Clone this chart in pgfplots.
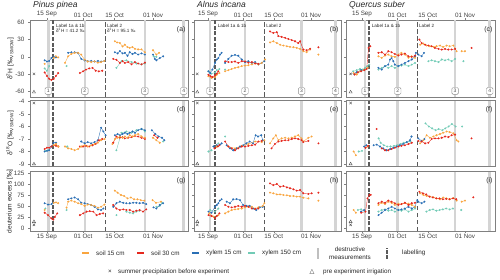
\documentclass[border=0pt]{standalone}
\usepackage{fontspec}
\setmainfont{Liberation Sans}
\newfontfamily\dejavu{DejaVu Sans}
\usepackage{pgfplots}
\pgfplotsset{compat=1.18}
\definecolor{cA}{HTML}{F9A53F}
\definecolor{cB}{HTML}{E5281E}
\definecolor{cC}{HTML}{2A6FB5}
\definecolor{cD}{HTML}{72CBB6}
\definecolor{dgray}{HTML}{5A5A5A}
\pgfplotsset{
 panel/.style={scale only axis, anchor=south west,
  axis line style={black!50,line width=0.4pt},
  tick style={black!50,line width=0.4pt}, tick align=outside, major tick length=2pt,
  ticklabel style={font=\fontsize{6.3}{7}\selectfont, text=black!75},
  xticklabel style={inner sep=1pt},
  /pgf/number format/assume math mode=true,
  xtick={15,31,45,62}, xticklabels={15 Sep,01 Oct,15 Oct,01 Nov},
  unbounded coords=jump, ytick pos=left, clip=true},
 rowI/.style={height=76.5pt, ymin=-69.5, ymax=63, ytick={-60,-30,0,30,60}, xtick pos=right, xticklabel pos=right},
 rowII/.style={height=65.5pt, ymin=-9.16, ymax=-3.92, ytick={-9,-8,-7,-6,-5,-4}, xmajorticks=false},
 rowIII/.style={height=59.5pt, ymin=-6, ymax=129, ytick={0,25,50,75,100,125}, xtick pos=left},
 colA/.style={width=158pt, xmin=7.5, xmax=77.5},
 colB/.style={width=147pt, xmin=8.6, xmax=75.7, yticklabels={}},
 colC/.style={width=149pt, xmin=7.7, xmax=75.7, yticklabels={}},
 ser/.style={mark=*, mark size=0.8pt, line width=0.35pt, mark options={solid}},
 s15/.style={ser, cA},
 s30/.style={ser, cB},
 x15/.style={ser, cC},
 x150/.style={ser, cD},
 cr/.style={only marks, mark=x, mark size=1.7pt, black!70, line width=0.4pt},
 tr/.style={only marks, mark=triangle, mark size=1.8pt, black!70, line width=0.4pt},
}
\tikzset{
 dbox/.style={draw=black!45, fill=white, rounded corners=1.2pt, inner sep=0pt, minimum width=6.5pt, minimum height=6.8pt, font=\fontsize{5}{5}\selectfont, text=black!70, line width=0.4pt},
 ann/.style={anchor=west, inner sep=0pt, font=\fontsize{4.6}{5}\selectfont, text=black!85},
}
\newcommand{\vl}[2]{\draw[#2] ({axis cs:#1,0}|-{rel axis cs:0,0}) -- ({axis cs:#1,0}|-{rel axis cs:0,1});}
\newcommand{\destr}[1]{\vl{#1}{black!17,line width=2.6pt}}
\newcommand{\deco}[6]{\destr{#1}\destr{#2}\destr{#3}\destr{#4}%
 \vl{#5}{dgray,line width=1.8pt,dash pattern=on 4pt off 1.6pt}%
 \vl{#6}{dgray,line width=0.8pt,dash pattern=on 4.5pt off 2.5pt}}
\newcommand{\boxes}[4]{\node[dbox] at (axis cs:#1,-59) {1};\node[dbox] at (axis cs:#2,-59) {2};\node[dbox] at (axis cs:#3,-59) {3};\node[dbox] at (axis cs:#4,-59) {4};}
\newcommand{\plab}[1]{\node[anchor=north east, inner sep=0pt, xshift=-2.5pt, yshift=-6pt, font=\fontsize{6.8}{8}\selectfont, text=black!85] at (rel axis cs:1,1) {(#1)};}
\begin{document}
\begin{tikzpicture}
\path[use as bounding box] (0,0) rectangle (500pt,279pt);
% ---------------- (a) ----------------
\begin{axis}[panel, rowI, colA, at={(30pt,182pt)}]
\deco{15.6}{31.8}{58.4}{75.6}{17.8}{41}
\addplot[x150] table {
x y
14 -20
15 -24
16 -16
nan nan
23.7 -16
nan nan
45.8 -19
48 -7.5
50.2 -6
52.5 -9
54.7 -11.5
56.9 -13
58.4 -11.5
nan nan
62.3 1
63.5 0
};
\addplot[x15] table {
x y
14 -6
15 -8
16 -7
17 -2
18 0
19 -1
nan nan
24.4 7
25.8 8
27.3 8
28.7 7
30.2 -3.5
31.7 -6
33.1 -7.6
34.6 -7
36.1 -8
37.6 -7
39 -8
40.5 -7
nan nan
45.1 8
46.3 6
47.3 10
48.5 6
49.5 7
50.7 2
51.7 8
52.9 5
54 7
55.4 4
56.9 6
58.4 4
nan nan
62 4
62.8 -3.5
63.5 -6
65 -2
66.5 1
};
\addplot[s30] table {
x y
14 -27
15 -33
16 -38
17 -40
18 -38
19 -33
20 -28
nan nan
29.6 -28
31 -25
32.3 -22
33.7 -20
35.2 -19
36.6 -24
38 -25
39.5 -24
nan nan
44.4 -3.5
45.8 -5
47.3 -10.5
48.5 -7.5
49.5 -10.5
51 -9
52.5 -13
54 -9
55.4 -11.5
56.9 -13
58.4 -10
};
\addplot[s15] table {
x y
14 -12
nan nan
18 -2
19 1
20 -1
nan nan
23 -10.5
24.4 1
25.8 5
27.3 7
28.8 7
30.2 4
31.7 -5
33.1 -8
34.6 -9
36.1 -8
37.6 -10
39 -9
40.5 -7
nan nan
45.1 27
46.1 25
47.3 24
48.5 18
49.5 21
50.7 17
51.7 15.5
52.9 17
54 14
55.4 13
56.9 13
58.4 8
nan nan
62 11.5
63.5 4
64.7 7
};
\addplot[cr] coordinates {(9.25,-29.5)};
\addplot[tr] coordinates {(9.25,-61)};
\boxes{15.6}{31.8}{58.4}{75.6}
\node[ann] at (axis cs:19,54) {Label 1a \& 1b};
\node[ann] at (axis cs:19,45.5) {δ\textsuperscript{2}H = 41.2 ‰};
\node[ann] at (axis cs:41.6,54) {Label 2};
\node[ann] at (axis cs:41.6,45.5) {δ\textsuperscript{2}H = 95.1 ‰};
\plab{a}
\end{axis}
% ---------------- (b) ----------------
\begin{axis}[panel, rowI, colB, at={(194pt,182pt)}]
\deco{15.9}{31.9}{57.7}{73.2}{18.2}{40.6}
\addplot[x150] table {
x y
15.2 -25
16.6 -29
18.2 -27
19 -23
20.2 -21
nan nan
22.8 -22
};
\addplot[x15] table {
x y
15.2 -25
16 -28
17 -22
18.2 -10.5
19 -4.6
19.7 -2
20.5 4
21.2 7
nan nan
22.8 -10.5
24.3 -3.5
25.8 2
27.3 3.4
28.8 2
30.4 -4.6
31.9 -9.2
33.4 -7.5
35 -10.5
36.5 -9
38 -13
39.5 -10.5
40.7 -7.5
};
\addplot[s15] table {
x y
15.2 -33.5
16.6 -36.5
18.2 -35
19 -31
20.2 -28
nan nan
22.8 -25
24.3 -23
25.8 -21
27.3 -19
28.8 -18
30.4 -16
31.9 -15
33.4 -14.5
35 -13
36.5 -11.5
38 -13
39.5 -10.5
41 -4.6
nan nan
43.3 25
44.8 27
46.4 24
47.9 21
49.4 19.6
51 18.4
52.4 17.3
54 16.7
55.5 15.5
57 13.8
58.5 9.8
60 8
61.6 12.7
nan nan
65.4 4
};
\addplot[s30] table {
x y
15.2 -31
16.2 -33.5
17 -35
18.2 -32
19 -29
19.7 -25
nan nan
22.8 -7.5
24.3 -9
25.8 -9
27.3 -8
28.8 -10.5
30.4 -7.5
31.9 -8
33.4 -10
35 -9
36.5 -11.5
38 -12
nan nan
43.3 44
44.8 41.5
46.4 42.7
47.1 36
48.6 34.6
50.2 33
51.7 31
53.2 29
54.7 27
56.2 24
57 27
58.5 12.7
60 11.5
61.6 14
nan nan
65.4 16.6
};
\addplot[cr] coordinates {(10.1,-29.5)};
\addplot[tr] coordinates {(10.1,-61)};
\boxes{15.9}{31.9}{57.7}{73.2}
\node[ann] at (axis cs:19.4,54) {Label 1a \& 1b};
\node[ann] at (axis cs:41.5,54) {Label 2};
\plab{b}
\end{axis}
% ---------------- (c) ----------------
\begin{axis}[panel, rowI, colC, at={(346pt,182pt)}]
\deco{16.4}{31.3}{57.5}{73.3}{18.3}{40.4}
\addplot[x150] table {
x y
11 -25
12.6 -23
14.1 -21
15.3 -22
16.4 -19
17.4 -16
18.3 -13.4
nan nan
22.5 -22
24 -19
25.5 -16
27 -19
28.5 -16
30 -19
31.6 -16
33 -15
34.6 -13.4
36.2 -16
37.7 -13.4
39.2 -10.5
nan nan
45.3 -7.5
46.8 -6
48.3 -7.5
49.9 -9
51.4 -4.6
52.9 -6
54.4 -4.6
55.9 -7.5
57.5 -3.5
nan nan
61.3 -7.5
};
\addplot[x15] table {
x y
11.2 -29
12.6 -26.6
14.6 -23
16.1 -22
nan nan
22.5 -19
24 -22
25.5 -16
27 -13.4
27.8 -4.6
28.5 -2
29.3 -7.5
30 -13.4
31.6 -16
33 -13.4
34.6 -10.5
36.2 -7.5
37.7 -4.6
39.2 1
39.6 7
nan nan
40.7 4
42.2 1
43.3 7
};
\addplot[s15] table {
x y
11.2 -28
12.6 -30.6
14.1 -25
16.1 -22
17.6 -19
nan nan
22.5 1
24 -1.7
25.5 2.3
27 4
28.5 1
30 0
31.6 4
33 7
34.6 4
36.2 -1.5
37.7 1
39.2 -1.7
nan nan
41.5 21
43 23
44.5 19.6
46 18.4
47.6 17.3
49 18.4
50.6 19.6
52 17.3
53.6 19.6
55 18.4
56.7 19.6
58.2 9.8
nan nan
60.5 9.8
62 9.8
};
\addplot[s30] table {
x y
11.6 -30.6
13.1 -26.6
14.6 -25
16.1 -23
17.1 -21
18 15.5
18.8 18.4
nan nan
22.5 7
24 8
25.5 4
27 9.8
28.5 8
30 5
31.6 2.3
33 4
34.6 5.7
36.2 1
37.7 0
39.2 2.3
nan nan
41.2 30
42.2 24
43.8 21
45.3 19.6
46.8 18.4
48.3 15.5
49.9 13.8
51.4 12.7
52.9 13.8
54.4 12.7
55.9 12.7
57.5 13.8
nan nan
65 15.5
};
\addplot[cr] coordinates {(9.8,-29.5)};
\addplot[tr] coordinates {(9.8,-61)};
\boxes{16.4}{31.3}{57.5}{73.3}
\node[ann] at (axis cs:19.4,54) {Label 1a \& 1b};
\node[ann] at (axis cs:41,54) {Label 2};
\plab{c}
\end{axis}
% ---------------- (d) ----------------
\begin{axis}[panel, rowII, colA, at={(30pt,113pt)}]
\deco{15.6}{31.8}{58.4}{75.6}{17.8}{41}
\addplot[x150] table {
x y
14.3 -7.95
15.5 -7.9
nan nan
24 -7.6
nan nan
45.8 -7.9
48 -6.5
50.2 -6.4
52.5 -6.5
54.7 -6.3
56.9 -6.2
58.4 -6.4
nan nan
66.5 -7.2
};
\addplot[x15] table {
x y
14 -8.0
15 -7.95
16 -7.9
17 -7.6
18 -7.3
19 -7.3
nan nan
30.2 -7.2
31.7 -7.35
33.1 -7.25
34.6 -7.35
36.1 -7.25
37.6 -7.1
39 -6.1
40 -6.4
41 -6.7
nan nan
45.1 -6.7
46.3 -6.6
47.3 -6.7
48.5 -6.6
49.5 -6.5
50.7 -6.6
51.7 -6.5
52.9 -6.4
54 -6.5
55.4 -6.3
56.9 -6.2
58.4 -6.3
nan nan
61.5 -6.3
63 -6.6
64.5 -6.8
66 -6.9
67 -7.1
};
\addplot[s30] table {
x y
14 -7.8
15 -7.7
16 -7.7
17 -7.6
18 -7.5
19 -7.55
20 -7.6
nan nan
29.6 -7.6
31 -7.6
32.3 -7.55
33.7 -7.6
35.2 -7.5
36.6 -7.4
38 -7.1
39.5 -7.0
nan nan
44.4 -7.3
45.8 -6.8
47.3 -6.9
48.5 -6.85
49.5 -6.95
51 -6.9
52.5 -6.85
54 -6.75
55.4 -6.8
56.9 -6.9
58.4 -7.0
nan nan
62.5 -6.7
64 -6.9
};
\addplot[s15] table {
x y
18 -7.5
19 -7.4
20 -7.6
nan nan
23 -7.6
24.4 -7.75
25.8 -7.8
27.3 -7.9
28.8 -7.8
30.2 -7.6
31.7 -7.5
33.1 -7.6
34.6 -7.5
36.1 -7.4
37.6 -7.3
39 -7.1
40.5 -7.0
nan nan
44 -7.4
45.1 -7.0
46.3 -6.9
47.3 -6.8
48.5 -6.9
49.5 -6.8
50.7 -6.9
51.7 -6.7
52.9 -6.8
54 -6.7
55.4 -6.6
56.9 -6.8
58.4 -6.9
nan nan
62 -6.9
63.5 -7.1
65 -7.3
};
\addplot[cr] coordinates {(9.25,-4.12)};
\addplot[tr] coordinates {(9.25,-9.0)};
\plab{d}
\end{axis}
% ---------------- (e) ----------------
\begin{axis}[panel, rowII, colB, at={(194pt,113pt)}]
\deco{15.9}{31.9}{57.7}{73.2}{18.2}{40.6}
\addplot[x150] table {
x y
15.2 -8.0
16.6 -7.9
nan nan
19.7 -7.35
nan nan
22.8 -6.8
};
\addplot[x15] table {
x y
17.5 -7.6
19 -7.5
20.4 -7.45
21.2 -7.35
nan nan
23.5 -7.5
25 -7.75
26.5 -7.9
28 -7.75
29.6 -7.6
31 -7.5
32.5 -7.35
34 -7.2
35.5 -7.35
36.7 -6.7
37.8 -6.8
39.3 -6.7
40 -7.1
};
\addplot[s15] table {
x y
19 -7.6
nan nan
24.3 -7.6
27.3 -7.75
30.4 -7.55
33.4 -7.4
36.5 -7.2
39.5 -7.25
40.7 -7.1
nan nan
43.3 -7.35
44.8 -6.95
46 -6.7
47.1 -7.1
48.6 -6.95
50.2 -6.9
51.7 -6.95
53.2 -6.9
54.7 -6.8
56.2 -6.7
57.7 -6.95
58.5 -7.2
60.8 -6.9
62.3 -6.8
};
\addplot[s30] table {
x y
18 -7.75
19.5 -7.6
20.2 -7.5
nan nan
22.8 -7.2
24.3 -7.6
25.8 -7.75
27.3 -7.9
28.8 -7.75
30.4 -7.6
31.9 -7.6
33.4 -7.55
35 -7.5
36.5 -7.45
38 -7.2
39.5 -7.15
nan nan
44 -7.75
45.5 -7.4
47.1 -7.2
48.6 -7.15
50.2 -7.1
51.7 -7.1
53.2 -7.0
54.7 -6.95
56.2 -7.0
57.7 -7.1
58.5 -7.25
60.8 -7.15
nan nan
65.4 -7.35
};
\addplot[cr] coordinates {(10.1,-4.12)};
\addplot[tr] coordinates {(10.1,-9.0)};
\plab{e}
\end{axis}
% ---------------- (f) ----------------
\begin{axis}[panel, rowII, colC, at={(346pt,113pt)}]
\deco{16.4}{31.3}{57.5}{73.3}{18.3}{40.4}
\addplot[x150] table {
x y
13.5 -8.0
15 -7.95
nan nan
22.6 -6.95
23.5 -7.3
25 -7.5
26.5 -7.6
28 -7.6
29.6 -7.55
31 -7.5
32.5 -7.4
34 -7.3
35.5 -7.25
37 -7.2
nan nan
44 -5.75
45.5 -6.0
47 -6.15
48.6 -6.3
50 -6.2
51.7 -6.3
53 -6.15
54.5 -6.0
56 -5.8
57.7 -6.0
nan nan
60.7 -6.0
};
\addplot[x15] table {
x y
16 -7.6
17 -7.5
nan nan
20.3 -7.5
21.7 -7.45
23.2 -7.6
24.7 -7.75
26.2 -7.9
27.8 -7.8
29.3 -7.7
30.8 -7.6
32.3 -7.5
33.8 -7.4
35.4 -7.25
36.9 -7.1
37.6 -6.8
nan nan
40.7 -6.95
42.2 -7.15
43.5 -7.0
};
\addplot[s15] table {
x y
11.2 -8.0
12.2 -8.3
nan nan
17.6 -7.6
nan nan
41.5 -7.35
43 -7.1
44.5 -6.7
46 -6.9
47.6 -6.8
49 -6.7
50.6 -6.6
52 -6.5
53.6 -6.4
55 -6.45
56.7 -6.55
58.2 -7.1
59 -7.2
};
\addplot[s30] table {
x y
16.6 -7.7
17.8 -7.55
nan nan
21.7 -6.2
nan nan
24 -7.75
25.5 -7.9
27 -7.9
28.5 -7.8
30 -7.7
31.6 -7.6
33 -7.55
34.6 -7.5
36.2 -7.4
37.7 -7.3
nan nan
40.7 -7.15
42.2 -7.2
43.8 -7.35
45.3 -7.3
46.8 -7.0
48.3 -6.95
49.9 -6.95
51.4 -6.9
52.9 -6.8
54.4 -6.85
55.9 -6.7
57.5 -6.65
nan nan
65 -6.95
};
\addplot[cr] coordinates {(9.8,-4.12)};
\addplot[tr] coordinates {(9.8,-9.0)};
\plab{f}
\end{axis}
% ---------------- (g) ----------------
\begin{axis}[panel, rowIII, colA, at={(30pt,48pt)}]
\deco{15.6}{31.8}{58.4}{75.6}{17.8}{41}
\addplot[x150] table {
x y
14.3 45
nan nan
23.7 41.6
nan nan
45.8 30
nan nan
50.2 38
51.7 35.5
53.2 34
54.6 38
56.1 40
nan nan
63.5 49
65 51
66 58
};
\addplot[x15] table {
x y
14 57
15.5 54
17 55
17.8 58
nan nan
24.4 66
25.8 68
27.3 70
28.8 66
30.2 58
31.7 57
33.1 55
34.6 53
36.1 49
37.6 43
39 41.5
40 45
nan nan
44.4 49
45.8 57
47.3 60.5
48.8 58
50.2 57
51.7 57
53.2 58
54.6 58
56.1 57
57.6 58
59 55
nan nan
62.2 47.6
63.5 45
65 53
66.5 57
};
\addplot[s30] table {
x y
14 35.5
15.5 30
17 22.6
17.8 20
18.5 26
19.6 34
nan nan
29.6 30
31.1 34
32.6 38
34 39
35.5 38
37 30
38.4 32.5
39.9 34
nan nan
44.4 53
45.8 45
47.3 41.6
48.8 43
50.2 41.6
51.7 41.6
53.2 38
54.6 40
56.1 41.6
57.6 38
59 43
};
\addplot[s15] table {
x y
14 41.6
nan nan
18 58
19 59
20 57
nan nan
23.7 47
24.4 60.5
25.8 63
27.3 60.5
28.8 57
30.2 55
31.7 51
33.1 54
34.6 53
36.1 51
37.6 47
39 49
40.5 54
nan nan
45.1 85.5
46.3 81
47.8 75.7
49.2 73.4
50.7 68
52.2 70
53.6 66
55.1 66
56.6 64
58.1 63
nan nan
61.8 64
63.3 58
65.5 60.5
};
\addplot[cr] coordinates {(9.25,8)};
\addplot[tr] coordinates {(9.25,15)};
\plab{g}
\end{axis}
% ---------------- (h) ----------------
\begin{axis}[panel, rowIII, colB, at={(194pt,48pt)}]
\deco{15.9}{31.9}{57.7}{73.2}{18.2}{40.6}
\addplot[x150] table {
x y
16 41.6
18.2 38
19.7 45
};
\addplot[x15] table {
x y
15.2 38
16.6 35.5
18.2 49
19 53
19.7 57
20.4 63
21.2 66
nan nan
23.5 60.5
25 57
26.5 66
28 66.5
29.6 64
31 53
32.5 51
34 51
35.5 45
37 41.6
38.6 47.6
40 49
};
\addplot[s15] table {
x y
15.6 34
17.5 26.5
19.7 30
nan nan
22.8 34
24.3 38
25.8 41.6
27.3 43
28.8 44
30.4 45
31.9 47.6
33.4 49
35 49
36.5 45
38 47.6
40 51
40.7 57
nan nan
43.3 81
44.8 79.5
46.4 77
47.9 77
49.4 75.7
51 75
52.4 73.4
54 73.4
55.5 72
57 72
58.5 69.6
60.8 68
nan nan
65.4 62.8
};
\addplot[s30] table {
x y
15.2 30
16.6 28
18.2 22.6
19 28
20.2 34
nan nan
22.8 53
24.3 49
25.8 47.6
27.3 49
28.8 51
30.4 49
31.9 51
33.4 49
35 45
36.5 44
38 45
nan nan
43.3 102
44.8 98
46.4 100.7
47.9 94.6
49.4 96
51 93
52.4 91
54 88.6
55.5 85.5
57 87
58.5 79.5
60.8 78
62.3 79.5
nan nan
65.4 81
};
\addplot[cr] coordinates {(10.1,8)};
\addplot[tr] coordinates {(10.1,15)};
\plab{h}
\end{axis}
% ---------------- (i) ----------------
\begin{axis}[panel, rowIII, colC, at={(346pt,48pt)}]
\deco{16.4}{31.3}{57.5}{73.3}{18.3}{40.4}
\addplot[x150] table {
x y
13.1 41.6
14.6 43
16.1 40
nan nan
22.5 38
24 41.6
25.5 43
27 40
28.5 41.6
30 38
31.6 41.6
33 40
34.6 43
36.2 38
37.7 41.6
39.2 45
nan nan
44.4 38
45.9 41.6
47.4 43
48.9 40
50.4 41.6
51.9 43
53.4 45
55 43
56.5 45
nan nan
60.3 41.6
};
\addplot[x15] table {
x y
14.6 38
16 41.6
nan nan
22.5 30
24 35.5
25.5 41.6
27 45
28.5 49
30 45
31.6 41.6
33 43
34.6 45
36.2 49
37.7 45
39.2 49
40.2 64
nan nan
40.7 60.5
42.2 57
43.5 60.5
};
\addplot[s15] table {
x y
11.2 41.6
12.2 35.5
nan nan
22.5 53
24 58
25.5 55
27 60.5
28.5 58
30 53
31.6 56
33 55
34.6 58
36.2 56
37.7 53
39.2 49
nan nan
41.5 79.5
43 75.7
44.5 73.4
46 72
47.6 70.4
49 68
50.6 66
52 70
53.6 68
55 66
56.7 69
58.2 63
nan nan
60.5 60.5
62 63
};
\addplot[s30] table {
x y
14.6 35.5
16.6 38
17.5 68
18.4 75.7
19 76
nan nan
22.5 57
24 60.5
25.5 58
27 63
28.5 60.5
30 57
31.6 53
33 55
34.6 58
36.2 53
37.7 57
39.2 58
nan nan
41.2 83
42.8 79.5
44.3 77
45.8 72
47.3 70.4
48.9 68
50.4 68
51.9 66
53.4 67
55 66
56.5 68
58 66
nan nan
65.8 70.4
};
\addplot[cr] coordinates {(9.8,8)};
\addplot[tr] coordinates {(9.8,15)};
\plab{i}
\end{axis}
% ---------------- titles and y labels ----------------
\node[anchor=base west, inner sep=0pt, font=\fontsize{8.5}{10}\selectfont\itshape, text=black!85] at (33pt,271pt) {Pinus pinea};
\node[anchor=base west, inner sep=0pt, font=\fontsize{8.5}{10}\selectfont\itshape, text=black!85] at (197pt,271pt) {Alnus incana};
\node[anchor=base west, inner sep=0pt, font=\fontsize{8.5}{10}\selectfont\itshape, text=black!85] at (349pt,271pt) {Quercus suber};
\node[rotate=90, inner sep=0pt, font=\fontsize{6.6}{8}\selectfont, text=black!85] at (10pt,220.25pt) {δ\textsuperscript{2}H [‰\textsubscript{VSMOW}]};
\node[rotate=90, inner sep=0pt, font=\fontsize{6.6}{8}\selectfont, text=black!85] at (10pt,145.75pt) {δ\textsuperscript{18}O [‰\textsubscript{VSMOW}]};
\node[rotate=90, inner sep=0pt, font=\fontsize{6.6}{8}\selectfont, text=black!85] at (10pt,77.75pt) {deuterium excess [‰]};
% ---------------- legend ----------------
\begin{scope}[font=\fontsize{6.3}{7.2}\selectfont, every node/.style={text=black!85, inner sep=0pt}]
\draw[cA, line width=2.2pt] (82pt,25.7pt) -- (89pt,25.7pt);
\node[anchor=west] at (96pt,25.7pt) {soil 15 cm};
\draw[cB, line width=2.2pt] (137pt,25.7pt) -- (144pt,25.7pt);
\node[anchor=west] at (151pt,25.7pt) {soil 30 cm};
\draw[cC, line width=2.2pt] (192pt,25.7pt) -- (199pt,25.7pt);
\node[anchor=west] at (206pt,25.7pt) {xylem 15 cm};
\draw[cD, line width=2.2pt] (248pt,25.7pt) -- (255pt,25.7pt);
\node[anchor=west] at (262pt,25.7pt) {xylem 150 cm};
\draw[black!25, line width=1.6pt] (318pt,20.5pt) -- (318pt,31pt);
\node[align=center] at (350pt,25.7pt) {destructive\\measurements};
\draw[dgray, line width=1.6pt, dash pattern=on 3.5pt off 1.5pt] (387pt,20.5pt) -- (387pt,31pt);
\node[anchor=west] at (402pt,25.7pt) {labelling};
\node at (110pt,7.3pt) {×};
\node[anchor=west] at (118pt,7.3pt) {summer precipitation before experiment};
\node at (312pt,7.6pt) {\dejavu △};
\node[anchor=west] at (323pt,7.3pt) {pre experiment irrigation};
\end{scope}
\end{tikzpicture}
\end{document}
